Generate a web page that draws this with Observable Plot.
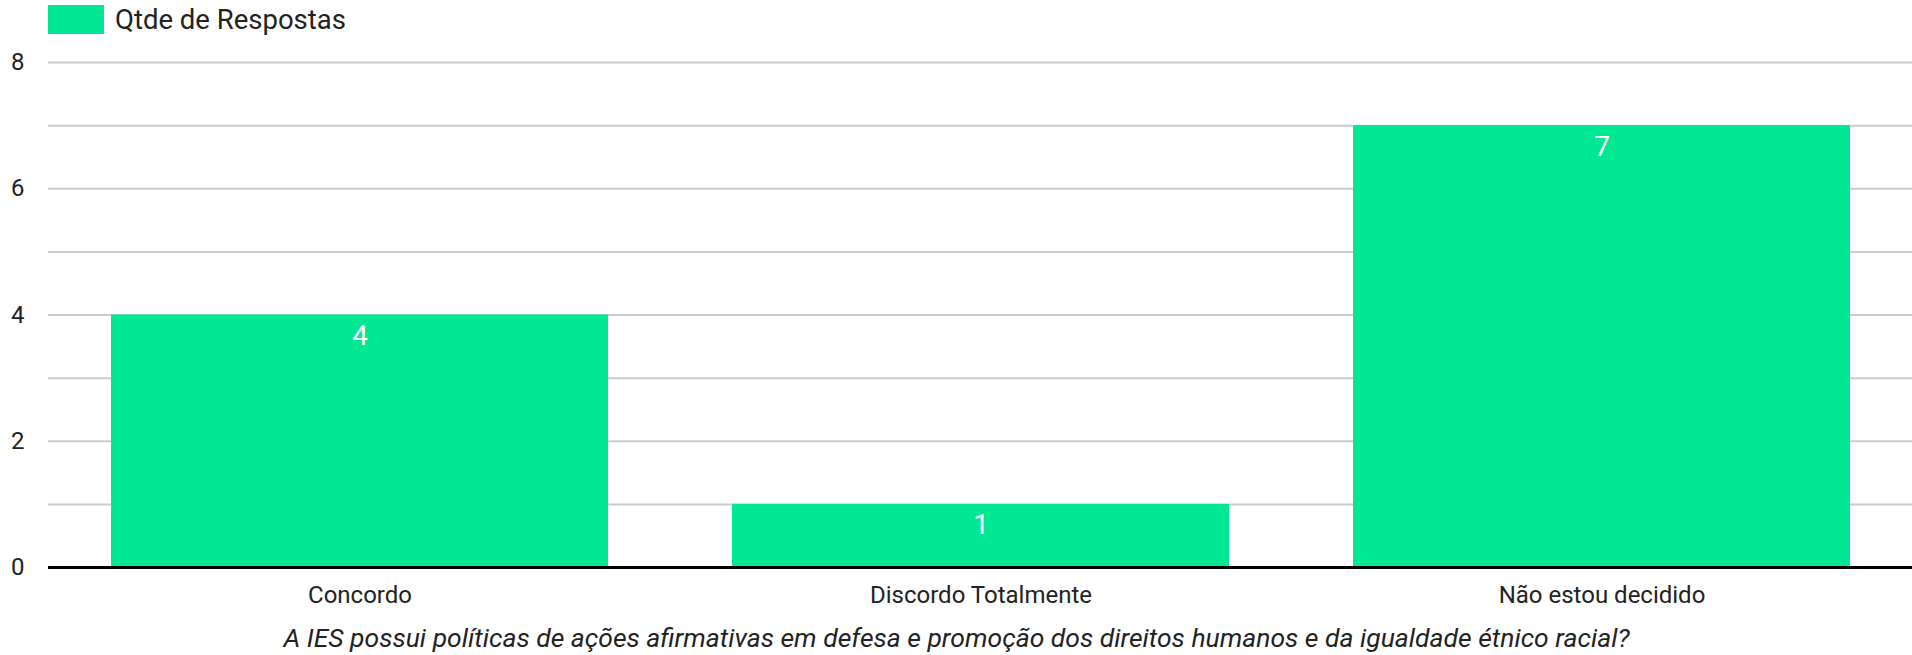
<!DOCTYPE html>
<html>
<head>
<meta charset="utf-8">
<script src="https://cdn.jsdelivr.net/npm/d3@7"></script>
<script src="https://cdn.jsdelivr.net/npm/@observablehq/plot@0.6"></script>
<style>
  html, body { margin: 0; padding: 0; background: #fff; }
  body { width: 1912px; height: 655px; overflow: hidden; font-family: Roboto, "Noto Sans", sans-serif; }
  #legend { height: 40px; position: relative; }
  #legend .sw { position: absolute; left: 48px; top: 5px; width: 56px; height: 29px; background: #00e893; }
  #legend .lb { position: absolute; left: 115px; top: 3px; font-size: 27.5px; color: #222; line-height: 34px; white-space: nowrap; }
  #chart svg { display: block; }
</style>
</head>
<body>
<div id="legend"><div class="sw"></div><div class="lb">Qtde de Respostas</div></div>
<div id="chart"></div>
<script>
const categories = ["Concordo", "Discordo Totalmente", "Não estou decidido"];
const values = [4, 1, 7];
const seriesName = "Qtde de Respostas";
const yTicks = [0, 2, 4, 6, 8];
const gridTicks = [1, 2, 3, 4, 5, 6, 7, 8];
const xTitle = "A IES possui políticas de ações afirmativas em defesa e promoção dos direitos humanos e da igualdade étnico racial?";

const data = categories.map((c, i) => ({category: c, value: values[i]}));
const color = "#00e893";

const chart = Plot.plot({
  width: 1912,
  height: 615,
  marginTop: 22,
  marginBottom: 88,
  marginLeft: 48,
  marginRight: 0,
  style: {fontFamily: "Roboto, 'Noto Sans', sans-serif", fontSize: "24px", color: "#222", background: "#fff", overflow: "visible"},
  x: {domain: categories, paddingInner: 0.2, paddingOuter: 0.1, label: null},
  y: {domain: [0, 8], label: null},
  marks: [
    Plot.gridY(gridTicks, {stroke: "#cccccc", strokeWidth: 2, strokeOpacity: 1}),
    Plot.barY(data, {x: "category", y: "value", fill: color}),
    Plot.text(data, {x: "category", y: "value", text: d => String(d.value), fill: "white", fontSize: 28, dy: 21}),
    Plot.ruleY([0], {stroke: "#000", strokeWidth: 3}),
    Plot.axisY(yTicks, {tickSize: 0, tickPadding: 24, fontSize: 24, fill: "#222", label: null, tickFormat: "d"}),
    Plot.axisX({tickSize: 0, tickPadding: 18, fontSize: 24, fill: "#222", label: null}),
    Plot.text([xTitle], {frameAnchor: "bottom", lineAnchor: "top", dy: 61, dx: -24, fontStyle: "italic", fontSize: 26.5, fill: "#222"})
  ]
});
document.getElementById("chart").appendChild(chart);
</script>
</body>
</html>
